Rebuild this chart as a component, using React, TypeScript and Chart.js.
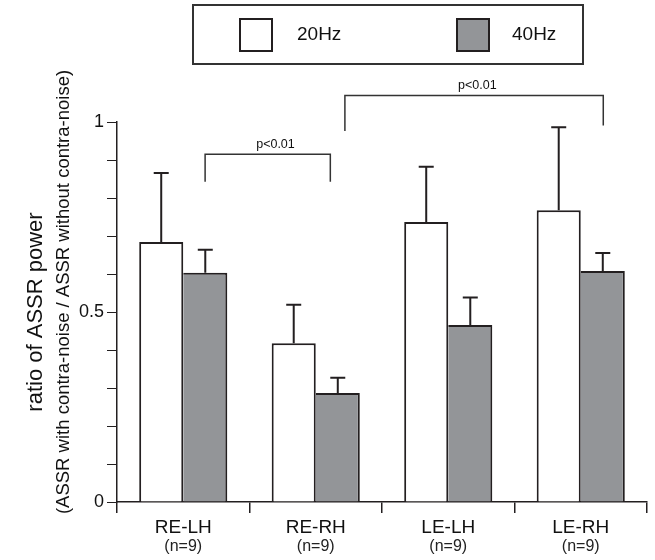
import React, { useEffect, useRef } from "react";
import { Chart, registerables } from "chart.js";

Chart.register(...registerables);

const categories = ["RE-LH", "RE-RH", "LE-LH", "LE-RH"];
const groupSizes = ["(n=9)", "(n=9)", "(n=9)", "(n=9)"];
const seriesLabels = ["20Hz", "40Hz"];
const mean20 = [0.684, 0.418, 0.737, 0.768];
const err20 = [0.182, 0.101, 0.145, 0.218];
const mean40 = [0.603, 0.287, 0.466, 0.608];
const err40 = [0.061, 0.04, 0.072, 0.047];
const yTickLabels = [0, 0.5, 1];

// significance brackets (x in category units, y in data units)
const bracketStart = [0.165, 1.22];
const bracketEnd = [1.11, 3.17];
const bracketTop = [0.915, 1.07];
const bracketLeftDrop = [0.843, 0.976];
const bracketRightDrop = [0.843, 0.991];
const bracketLabelX = [0.696, 2.22];
const bracketLabels = ["p<0.01", "p<0.01"];

const yTitle = "ratio of ASSR power";
const ySubTitle = "(ASSR with contra-noise / ASSR without contra-noise)";

const FONT = "'Liberation Sans', Arial, sans-serif";
const INK = "#231f20";
const GRAY = "#939598";

const errorBarPlugin = {
  id: "errorBars",
  afterDatasetsDraw(chart: any) {
    const ctx = chart.ctx;
    const yScale = chart.scales.y;
    const errs = [err20, err40];
    const means = [mean20, mean40];
    ctx.save();
    ctx.strokeStyle = INK;
    ctx.lineWidth = 2;
    chart.data.datasets.forEach((_ds: any, di: number) => {
      const meta = chart.getDatasetMeta(di);
      meta.data.forEach((el: any, i: number) => {
        const top = yScale.getPixelForValue(means[di][i] + errs[di][i]);
        ctx.beginPath();
        ctx.moveTo(el.x, el.y);
        ctx.lineTo(el.x, top);
        ctx.moveTo(el.x - 7.5, top);
        ctx.lineTo(el.x + 7.5, top);
        ctx.stroke();
      });
    });
    ctx.restore();
  },
};

const extrasPlugin = {
  id: "extras",
  afterDraw(chart: any) {
    const ctx = chart.ctx;
    const x = chart.scales.x;
    const y = chart.scales.y;
    const catW = x.getPixelForValue(1) - x.getPixelForValue(0);
    const px = (v: number) => {
      const i = Math.floor(v);
      return x.getPixelForValue(i) + (v - i) * catW;
    };
    ctx.save();
    // brackets
    ctx.strokeStyle = "#333";
    ctx.lineWidth = 1.5;
    ctx.fillStyle = "#111";
    ctx.font = `12.5px ${FONT}`;
    ctx.textAlign = "center";
    ctx.textBaseline = "alphabetic";
    bracketStart.forEach((s, k) => {
      const x1 = px(s);
      const x2 = px(bracketEnd[k]);
      const yt = y.getPixelForValue(bracketTop[k]);
      ctx.beginPath();
      ctx.moveTo(x1, y.getPixelForValue(bracketLeftDrop[k]));
      ctx.lineTo(x1, yt);
      ctx.lineTo(x2, yt);
      ctx.lineTo(x2, y.getPixelForValue(bracketRightDrop[k]));
      ctx.stroke();
      ctx.fillText(bracketLabels[k], px(bracketLabelX[k]), yt - 6);
    });
    // group sizes under categories
    ctx.font = `16px ${FONT}`;
    ctx.fillStyle = "#222";
    ctx.textBaseline = "middle";
    groupSizes.forEach((g, i) => {
      ctx.fillText(g, x.getPixelForValue(i), 547);
    });
    // legend
    ctx.lineWidth = 2;
    ctx.strokeStyle = "#333";
    ctx.strokeRect(193, 5, 390, 59);
    const items = [
      { sx: 240, tx: 297 },
      { sx: 457, tx: 512 },
    ];
    ctx.font = `19px ${FONT}`;
    ctx.textAlign = "left";
    ctx.textBaseline = "middle";
    chart.data.datasets.forEach((ds: any, i: number) => {
      const it = items[i];
      ctx.fillStyle = ds.backgroundColor;
      ctx.fillRect(it.sx, 19, 32, 32);
      ctx.strokeStyle = INK;
      ctx.strokeRect(it.sx, 19, 32, 32);
      ctx.fillStyle = "#111";
      ctx.fillText(ds.label, it.tx, 35);
    });
    // y titles
    ctx.fillStyle = "#111";
    ctx.textAlign = "center";
    ctx.save();
    ctx.translate(36, 312);
    ctx.rotate(-Math.PI / 2);
    ctx.font = `22px ${FONT}`;
    ctx.fillText(yTitle, 0, 0);
    ctx.restore();
    ctx.save();
    ctx.translate(64, 292);
    ctx.rotate(-Math.PI / 2);
    ctx.font = `18.5px ${FONT}`;
    ctx.fillText(ySubTitle, 0, 0);
    ctx.restore();
    ctx.restore();
  },
};

export default function App() {
  const ref = useRef<HTMLCanvasElement>(null);
  useEffect(() => {
    if (!ref.current) return;
    const chart = new Chart(ref.current, {
      type: "bar",
      data: {
        labels: categories,
        datasets: [
          {
            label: seriesLabels[0],
            data: mean20,
            backgroundColor: "#ffffff",
            borderColor: INK,
            borderWidth: { top: 2, left: 2, right: 2, bottom: 0 },
            borderSkipped: false,
          },
          {
            label: seriesLabels[1],
            data: mean40,
            backgroundColor: GRAY,
            borderColor: INK,
            borderWidth: { top: 2, left: 0, right: 2, bottom: 0 },
            borderSkipped: false,
          },
        ],
      },
      options: {
        responsive: false,
        animation: false,
        layout: { padding: { left: 57, right: 8, top: 122, bottom: 0 } },
        datasets: { bar: { categoryPercentage: 0.665, barPercentage: 1 } },
        plugins: { legend: { display: false }, tooltip: { enabled: false } },
        scales: {
          x: {
            afterFit: (s: any) => {
              s.height = 58;
            },
            grid: {
              display: true,
              drawOnChartArea: false,
              drawTicks: true,
              tickLength: 11,
              color: INK,
              lineWidth: 1.5,
            },
            border: { display: true, color: INK, width: 1.5 },
            ticks: {
              color: "#111",
              font: { family: FONT, size: 19 },
              padding: 3,
              maxRotation: 0,
            },
          },
          y: {
            min: 0,
            max: 1,
            afterFit: (s: any) => {
              s.width = 60;
            },
            grid: {
              display: true,
              drawOnChartArea: false,
              drawTicks: true,
              tickLength: 10,
              color: INK,
              lineWidth: 1,
            },
            border: { display: true, color: INK, width: 1.5 },
            ticks: {
              stepSize: 0.1,
              autoSkip: false,
              color: "#111",
              padding: 3,
              font: { family: FONT, size: 18 },
              callback: (v: any) => {
                const n = Math.round(Number(v) * 10) / 10;
                return yTickLabels.includes(n) ? String(n) : "";
              },
            },
          },
        },
      },
      plugins: [errorBarPlugin, extrasPlugin],
    });
    return () => chart.destroy();
  }, []);
  return (
    <div style={{ position: "absolute", left: 0, top: 0, width: 655, height: 560, background: "#fff" }}>
      <canvas ref={ref} width={655} height={560} style={{ display: "block" }} />
    </div>
  );
}
